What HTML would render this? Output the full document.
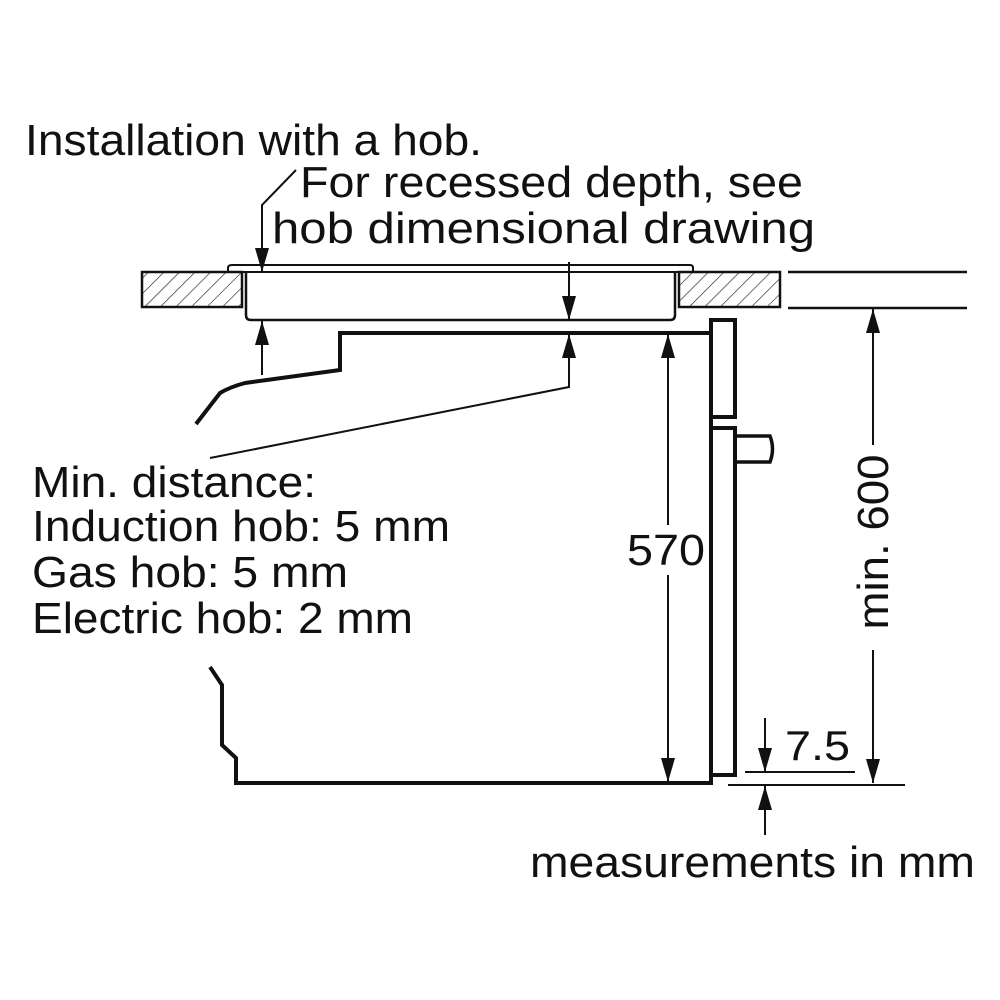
<!DOCTYPE html>
<html><head><meta charset="utf-8"><style>
html,body{margin:0;padding:0;background:#fff;}
svg{display:block;}
text{font-family:"Liberation Sans",sans-serif;fill:#111;}
</style></head><body>
<svg width="1000" height="1000" viewBox="0 0 1000 1000" xmlns="http://www.w3.org/2000/svg">
<defs>
<pattern id="h" patternUnits="userSpaceOnUse" width="11" height="11" patternTransform="rotate(45)">
<line x1="0" y1="0" x2="0" y2="11" stroke="#222" stroke-width="1.3"/>
</pattern>
<marker id="a" markerWidth="24" markerHeight="14" refX="24" refY="7" orient="auto" markerUnits="userSpaceOnUse" viewBox="0 0 24 14">
<path d="M0,0 L24,7 L0,14 Z" fill="#111"/>
</marker>
</defs>
<g font-size="44">
<text x="25" y="155" textLength="457" lengthAdjust="spacingAndGlyphs">Installation with a hob.</text>
<text x="300" y="197" textLength="503" lengthAdjust="spacingAndGlyphs">For recessed depth, see</text>
<text x="272" y="243" textLength="543" lengthAdjust="spacingAndGlyphs">hob dimensional drawing</text>
<text x="32" y="497" textLength="284" lengthAdjust="spacingAndGlyphs">Min. distance:</text>
<text x="32" y="541" textLength="418" lengthAdjust="spacingAndGlyphs">Induction hob: 5 mm</text>
<text x="32" y="587" textLength="316" lengthAdjust="spacingAndGlyphs">Gas hob: 5 mm</text>
<text x="32" y="633" textLength="381" lengthAdjust="spacingAndGlyphs">Electric hob: 2 mm</text>
<text x="627" y="565" textLength="78" lengthAdjust="spacingAndGlyphs">570</text>
<text x="530" y="877" textLength="445" lengthAdjust="spacingAndGlyphs">measurements in mm</text>
<text x="0" y="0" transform="translate(888,542) rotate(-90)" text-anchor="middle" textLength="175" lengthAdjust="spacingAndGlyphs">min. 600</text>
<text x="785" y="760" font-size="42" textLength="65" lengthAdjust="spacingAndGlyphs">7.5</text>
</g>
<g fill="none" stroke="#111">
<rect x="142" y="272" width="100" height="35" fill="url(#h)" stroke-width="2.5"/>
<rect x="679" y="272" width="101" height="35" fill="url(#h)" stroke-width="2.5"/>
<line x1="788" y1="272" x2="967" y2="272" stroke-width="2.5"/>
<line x1="788" y1="308" x2="967" y2="308" stroke-width="2.5"/>
<path d="M228,272 L228,268 Q228,265 232,265 L690,265 Q693,265 693,268 L693,272" stroke-width="2"/>
<line x1="228" y1="272" x2="693" y2="272" stroke-width="2"/>
<path d="M246,272 L246,315 Q246,320 251,320 L670,320 Q675,320 675,315 L675,272" stroke-width="2.5"/>
<path d="M711,333 L340,333 L340,370 L245,383 Q230,387 220,393 L196,424" stroke-width="4"/>
<path d="M210,667 L222,685 L222,745 L236,758 L236,783 L711,783 L711,775 L735,775 L735,428 L711,428 L711,417 L735,417 L735,320 L711,320 L711,783" stroke-width="4"/>
<path d="M735,436 L770,436 Q775,449 770,462 L735,462" stroke-width="3.5"/>
<polyline points="296,170 262,205 262,272" stroke-width="2" marker-end="url(#a)"/>
<line x1="569" y1="262" x2="569" y2="320" stroke-width="2" marker-end="url(#a)"/>
<line x1="262" y1="375" x2="262" y2="321" stroke-width="2" marker-end="url(#a)"/>
<polyline points="210,458 569,387 569,334" stroke-width="2" marker-end="url(#a)"/>
<line x1="668" y1="525" x2="668" y2="334" stroke-width="2" marker-end="url(#a)"/>
<line x1="668" y1="575" x2="668" y2="782" stroke-width="2" marker-end="url(#a)"/>
<line x1="873" y1="445" x2="873" y2="309" stroke-width="2" marker-end="url(#a)"/>
<line x1="873" y1="650" x2="873" y2="783" stroke-width="2" marker-end="url(#a)"/>
<line x1="765" y1="718" x2="765" y2="772" stroke-width="2" marker-end="url(#a)"/>
<line x1="765" y1="835" x2="765" y2="786" stroke-width="2" marker-end="url(#a)"/>
<line x1="745" y1="772" x2="855" y2="772" stroke-width="2"/>
<line x1="728" y1="785" x2="905" y2="785" stroke-width="2"/>
</g>
</svg>
</body></html>
